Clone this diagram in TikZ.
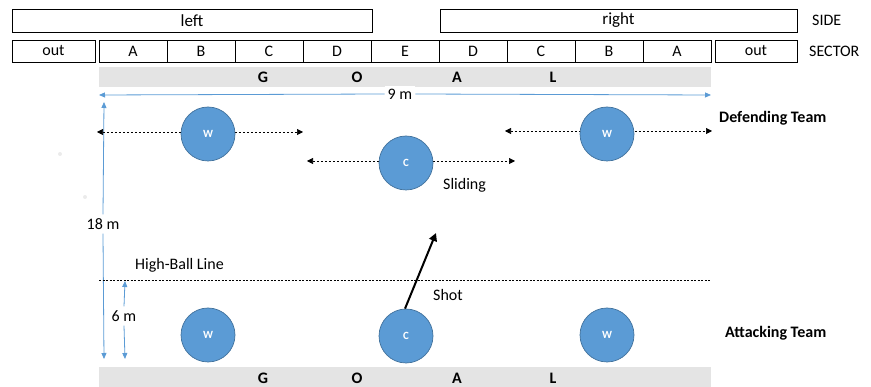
\documentclass[tikz,border=0pt]{standalone}
\usepackage{fontspec}
\setmainfont{Carlito}
\usetikzlibrary{arrows.meta}
\definecolor{pblue}{HTML}{5B9BD5}
\definecolor{pedge}{HTML}{41719C}
\definecolor{goalgray}{HTML}{E4E4E4}
\begin{document}
\begin{tikzpicture}[x=1pt,y=-1pt,
  sidebox/.style={draw=black,line width=0.8pt,minimum height=23pt,inner sep=0pt,font=\fontsize{17}{17}\selectfont},
  secbox/.style={draw=black,line width=0.8pt,minimum height=22pt,minimum width=68pt,inner sep=0pt,font=\fontsize{16}{16}\selectfont},
  goalbar/.style={fill=goalgray,draw=none,minimum width=612pt,minimum height=20pt,inner sep=0pt},
  goalletter/.style={font=\bfseries\fontsize{16}{16}\selectfont},
  player/.style={circle,fill=pblue,draw=pedge,line width=0.7pt,minimum size=54pt,inner sep=0pt,text=white,font=\bfseries\fontsize{11}{11}\selectfont},
  dim/.style={draw=pblue,line width=0.8pt,-{Triangle[length=6pt,width=5pt]}},
  slide/.style={draw=black,line width=0.6pt,dash pattern=on 2pt off 2pt,{Triangle[length=6pt,width=6pt]}-{Triangle[length=6pt,width=6pt]}},
  lbl/.style={font=\fontsize{16}{16}\selectfont},
  team/.style={font=\bfseries\fontsize{16}{16}\selectfont}
]
\useasboundingbox (0,0) rectangle (871,387);
% side row
\node[sidebox,minimum width=360pt] (sideL) at (192,20.5) {left};
\node[sidebox,minimum width=357pt] (sideR) at (618.5,20.5) {right};
\node[lbl,anchor=west,inner sep=0pt] (sidelbl) at (812,20) {SIDE};
% sector row
\node[secbox,minimum width=83pt] (outL) at (53.5,51) {out};
\foreach \n/\t [count=\i from 0] in {sA/A,sB/B,sC/C,sD/D,sE/E,tD/D,tC/C,tB/B,tA/A}{
  \node[secbox] (\n) at (133+68*\i,51) {\t};
}
\node[secbox,minimum width=82pt] (outR) at (756,51) {out};
\node[lbl,anchor=west,inner sep=0pt] (seclbl) at (809,51) {SECTOR};
% goal bars
\node[goalbar] (goalT) at (405,77) {};
\node[goalbar] (goalB) at (405,377) {};
\foreach \x/\t/\n in {263/G/g,357/O/o,457/A/a,553/L/l}{
  \node[goalletter] (t\n) at (\x,77) {\t};
  \node[goalletter] (b\n) at (\x,378) {\t};
}
% dimension 9 m
\coordinate (n9L) at (99,95);
\coordinate (n9R) at (711,95);
\node[lbl,fill=white,inner sep=3pt] (nine) at (400,94) {9 m};
\draw[dim] (nine.west) -- (n9L);
\draw[dim] (nine.east) -- (n9R);
% dimension 18 m
\coordinate (e18T) at (104,102);
\coordinate (e18B) at (104,359);
\node[lbl,fill=white,inner sep=4pt] (eighteen) at (103,224) {18 m};
\draw[dim] (eighteen.north) -- (e18T);
\draw[dim] (eighteen.south) -- (e18B);
% high-ball line
\coordinate (hbL) at (99,280);
\coordinate (hbR) at (711,280);
\draw[black,line width=0.5pt,dash pattern=on 2pt off 1.5pt] (hbL) -- (hbR);
\node[lbl,anchor=west,inner sep=0pt] (hbl) at (135,265) {High-Ball Line};
% 6 m
\coordinate (s6T) at (125,281);
\coordinate (s6B) at (125,359);
\node[lbl,fill=white,inner sep=4pt] (six) at (124,316) {6 m};
\draw[dim] (six.north) -- (s6T);
\draw[dim] (six.south) -- (s6B);
% faint dots
\fill[black!8] (60,154) circle (2pt);
\fill[black!8] (85,197) circle (2pt);
% sliding arrows
\coordinate (a1) at (97,132); \coordinate (a2) at (303,132);
\coordinate (b1) at (307,161); \coordinate (b2) at (515,161);
\coordinate (c1) at (505,131); \coordinate (c2) at (712,131);
\draw[slide] (a1) -- (a2);
\draw[slide] (b1) -- (b2);
\draw[slide] (c1) -- (c2);
% players
\node[player] (dW1) at (208,134) {W};
\node[player] (dC) at (406,163) {C};
\node[player] (dW2) at (607,134) {W};
\node[player] (aW1) at (208,335) {W};
\node[player] (aC) at (406,336) {C};
\node[player] (aW2) at (607,335) {W};
% labels
\node[team,anchor=west,inner sep=0pt] (def) at (719,118) {Defending Team};
\node[team,anchor=west,inner sep=0pt] (att) at (725,333) {Attacking Team};
\node[lbl,anchor=west,inner sep=0pt] (slid) at (443,185) {Sliding};
\node[lbl,anchor=west,inner sep=0pt] (shotl) at (433,295) {Shot};
% shot
\coordinate (shotEnd) at (436,233);
\draw[black,line width=2pt,-{Triangle[length=8pt,width=8pt]}] (aC.north) ++(-1,0) -- (shotEnd);
\end{tikzpicture}
\end{document}
